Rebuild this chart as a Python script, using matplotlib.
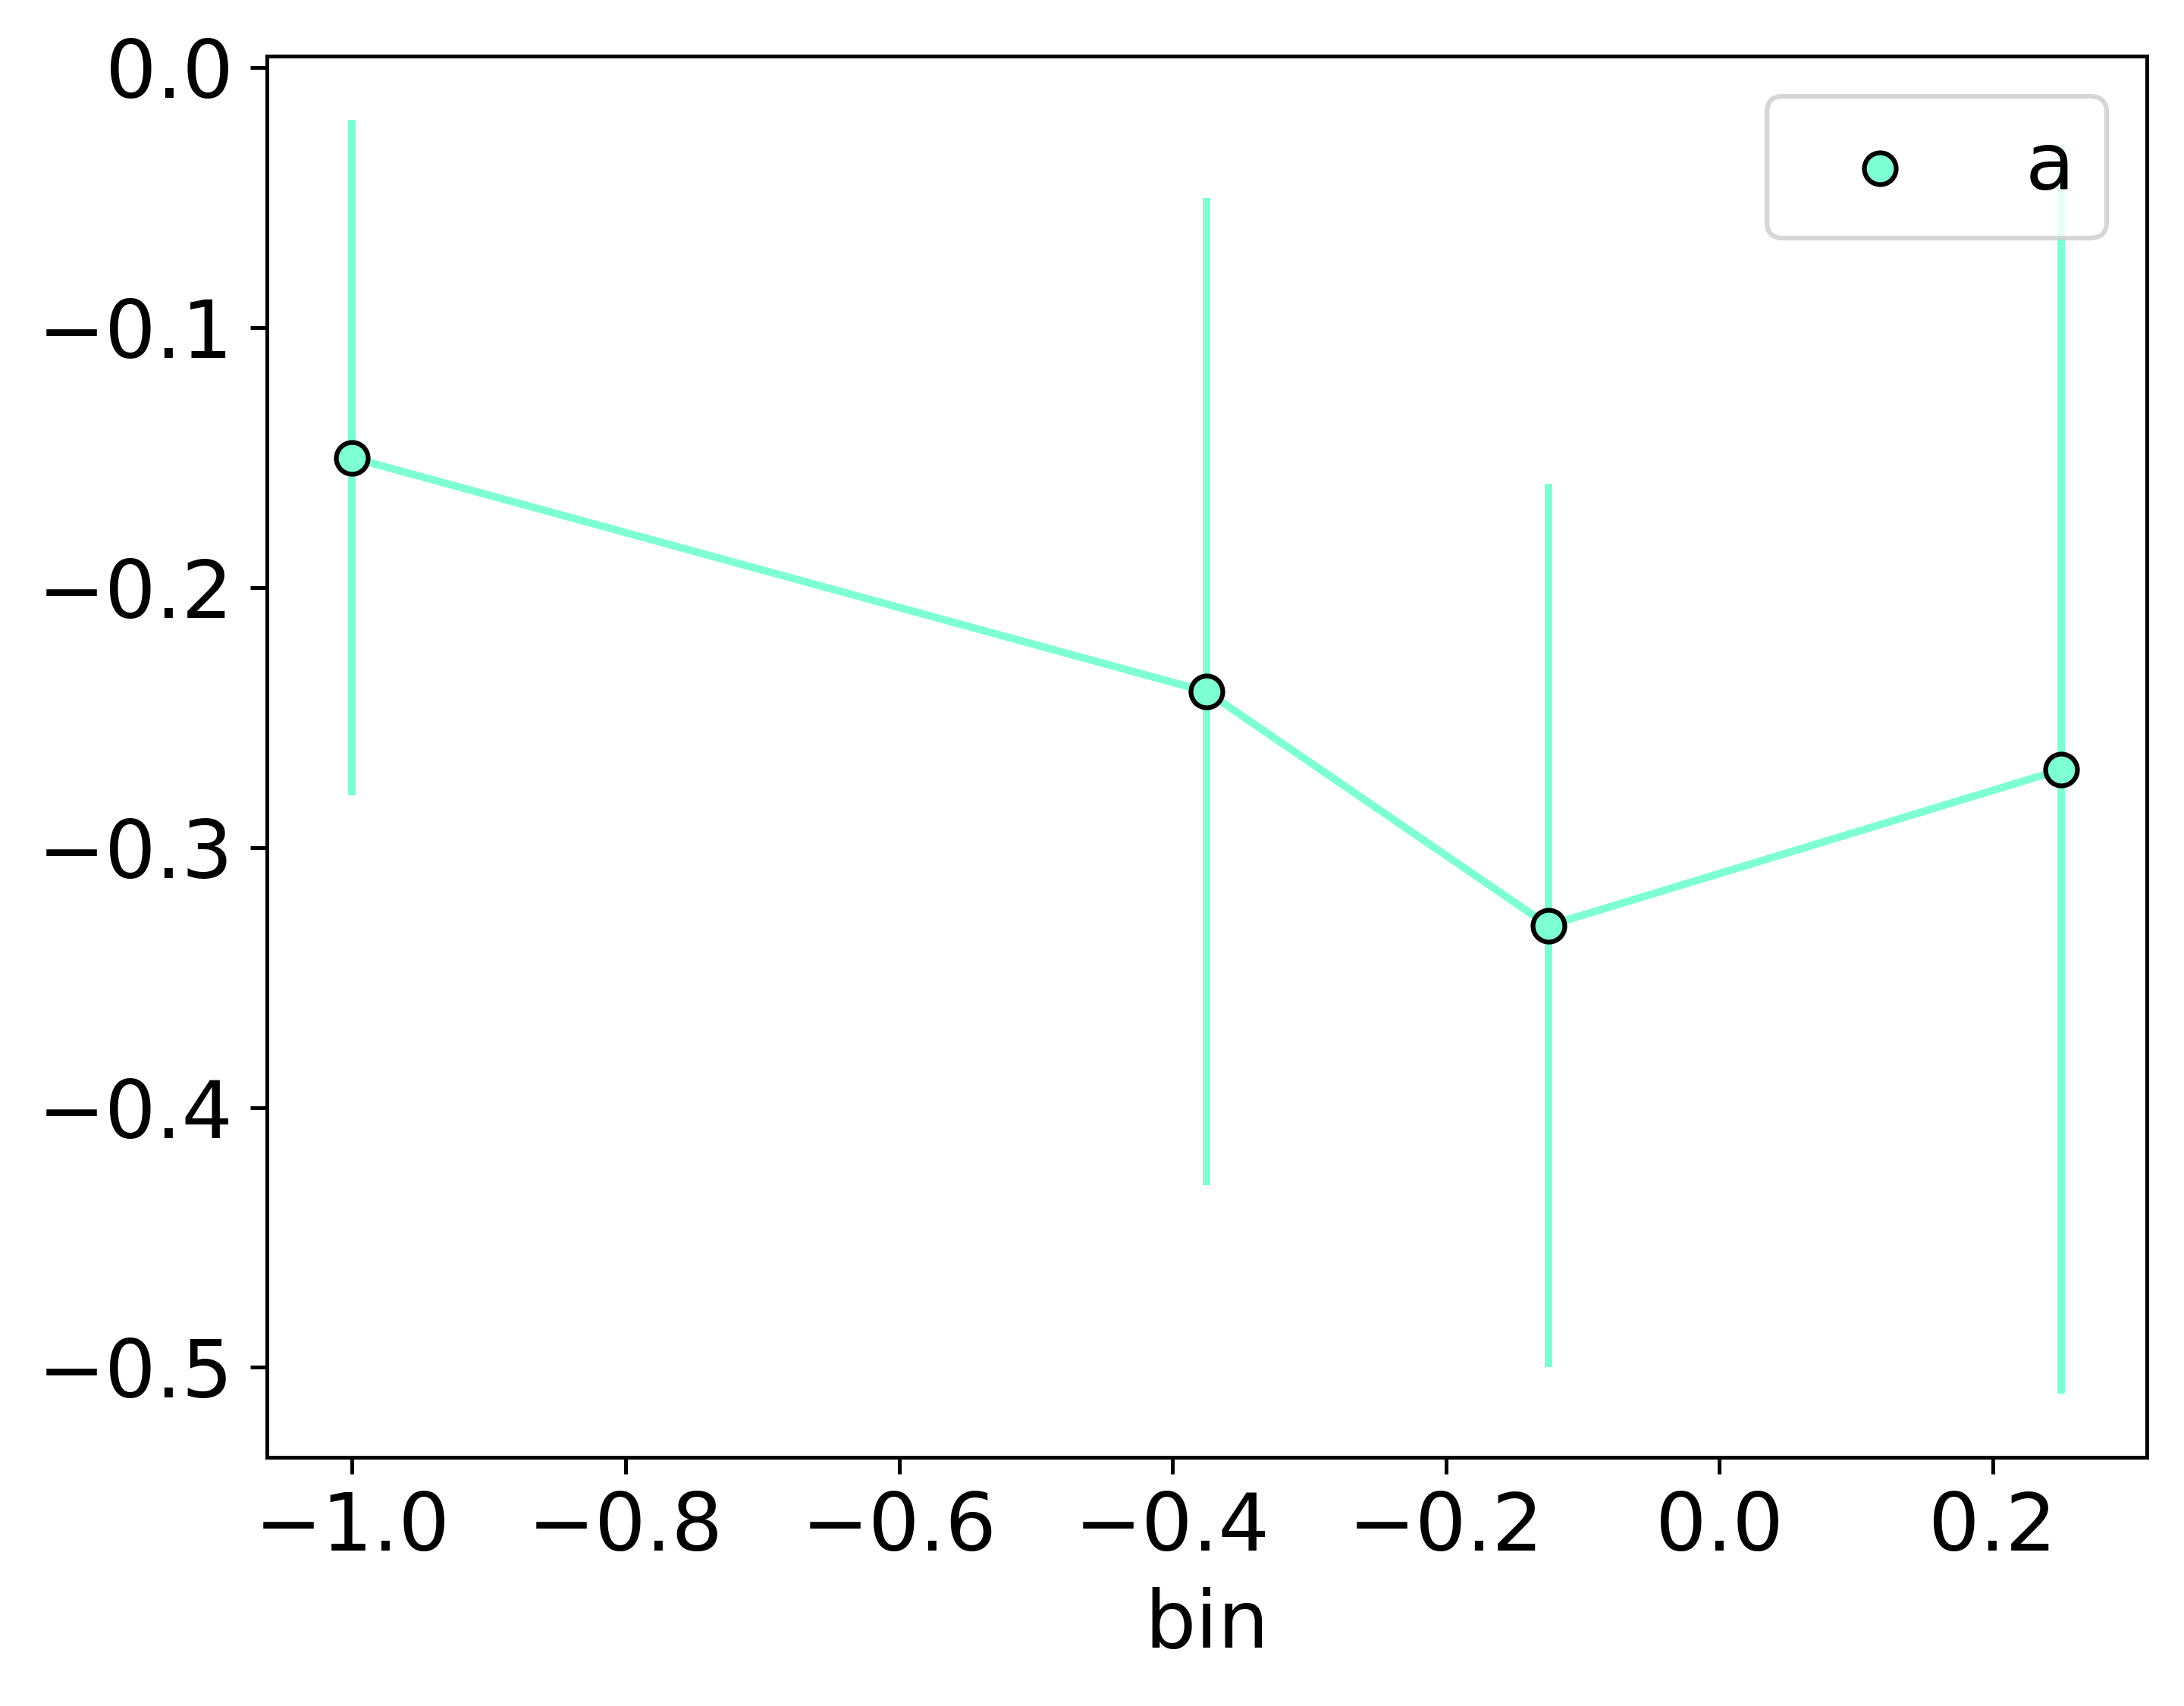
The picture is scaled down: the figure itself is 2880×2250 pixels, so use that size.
import matplotlib
matplotlib.use("Agg")
import matplotlib.pyplot as plt

# bin centres, mean values and their errors
bins = [-1.0, -0.375, -0.125, 0.25]
means = [-0.15, -0.24, -0.33, -0.27]
errs = [0.13, 0.19, 0.17, 0.24]
label = "a"
colour = "aquamarine"

plt.rcParams['font.size'] = 17

fig = plt.figure(figsize=(6.4, 5), dpi=450)
ax = fig.add_axes([0.1221, 0.1459, 0.9829 - 0.1221, 0.9671 - 0.1459])

ax.errorbar(bins, means, yerr=errs, fmt='none', ecolor=colour, elinewidth=1.6)
ax.plot(bins, means, color=colour, lw=1.6)
ax.scatter(bins, means, s=45, color=colour, edgecolors='black', linewidths=1.0,
           label=label, zorder=3)

ax.set_xlabel("bin")
ax.legend(loc='upper right')

fig.savefig("out.png", dpi=450)
